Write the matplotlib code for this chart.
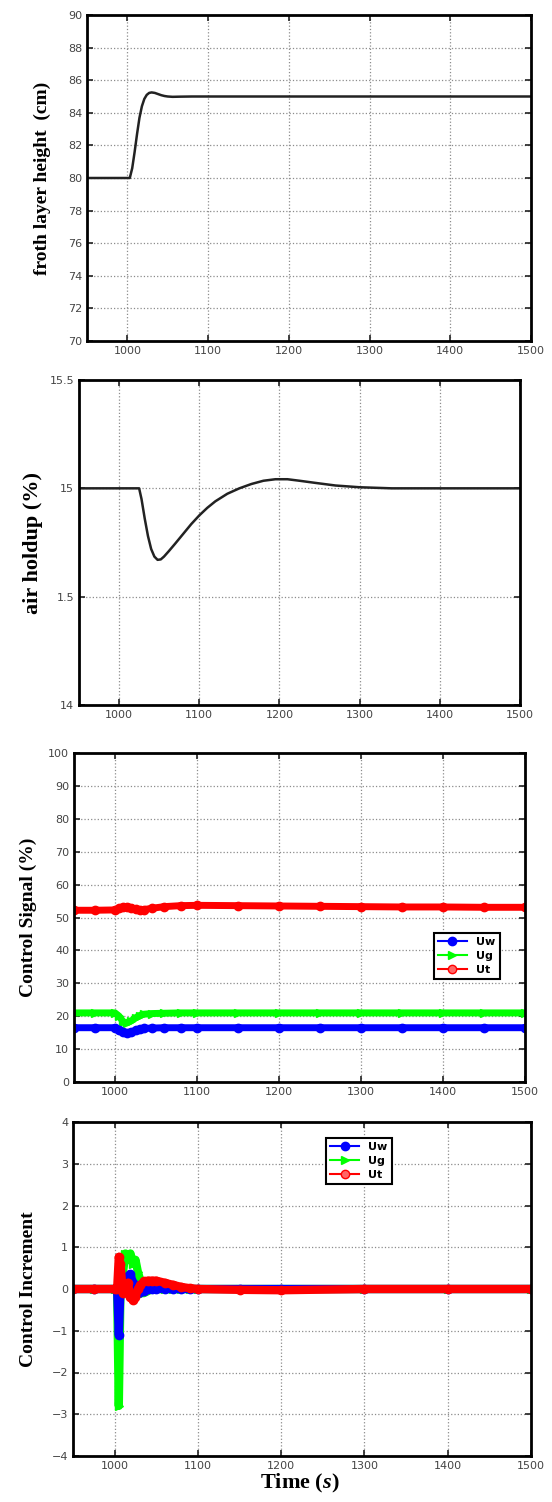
import matplotlib
matplotlib.use("Agg")
import matplotlib.pyplot as plt
from matplotlib.lines import Line2D

plt.rcParams["mathtext.fontset"] = "custom"
plt.rcParams["mathtext.it"] = "Liberation Serif:italic:bold"
plt.rcParams["mathtext.rm"] = "Liberation Serif:bold"

# ---- data ----
t_froth = [950, 1000, 1003, 1006, 1009, 1012, 1015, 1018, 1021, 1024, 1027, 1030, 1034, 1038,
           1042, 1046, 1050, 1056, 1065, 1080, 1500]
froth = [80, 80, 80, 80.6, 81.6, 82.7, 83.7, 84.4, 84.85, 85.1, 85.22, 85.25, 85.22, 85.15,
         85.08, 85.03, 85.0, 84.98, 84.99, 85.0, 85.0]

t_air = [950, 1025, 1028, 1032, 1036, 1040, 1044, 1048, 1052, 1056, 1062, 1070, 1080, 1090,
         1100, 1110, 1120, 1135, 1150, 1165, 1180, 1195, 1210, 1225, 1245, 1270, 1300, 1340,
         1400, 1500]
air = [15.0, 15.0, 14.95, 14.86, 14.78, 14.72, 14.685, 14.67, 14.672, 14.685, 14.71, 14.745,
       14.79, 14.835, 14.875, 14.91, 14.94, 14.975, 15.0, 15.02, 15.035, 15.042, 15.042,
       15.035, 15.025, 15.013, 15.005, 15.0, 15.0, 15.0]

t_sig = [950, 975, 1000, 1005, 1010, 1015, 1020, 1025, 1030, 1035, 1045, 1060, 1080, 1100,
         1150, 1200, 1250, 1300, 1350, 1400, 1450, 1500]
sig_uw = [16.5, 16.5, 16.5, 15.8, 15.1, 15.0, 15.2, 15.7, 16.1, 16.3, 16.4, 16.5, 16.5, 16.5,
          16.5, 16.5, 16.5, 16.5, 16.5, 16.5, 16.5, 16.5]
sig_ug = [21.0, 21.0, 21.0, 20.0, 18.3, 18.0, 18.6, 19.5, 20.2, 20.6, 20.8, 20.9, 21.0, 21.0,
          21.0, 21.0, 21.0, 21.0, 21.0, 21.0, 21.0, 21.0]
sig_ut = [52.2, 52.2, 52.3, 52.8, 53.2, 53.3, 53.0, 52.5, 52.3, 52.4, 52.8, 53.3, 53.6, 53.7,
          53.6, 53.5, 53.4, 53.3, 53.2, 53.2, 53.1, 53.1]

t_inc = [950, 975, 1000, 1003, 1005, 1007, 1010, 1013, 1016, 1019, 1022, 1025, 1028, 1031,
         1035, 1040, 1045, 1050, 1060, 1070, 1080, 1090, 1100, 1150, 1200, 1300, 1400, 1500]
inc_uw = [0, 0, 0, 0, -1.1, 0, 0.05, 0.15, 0.3, 0.35, 0.15, 0, -0.1, -0.08,
          -0.05, 0, 0, 0, 0, 0, 0, 0, 0, 0, 0, 0, 0, 0]
inc_ug = [0, 0, 0, 0, -2.8, 0, 0.4, 0.85, 0.7, 0.85, 0.6, 0.7, 0.4, 0.2,
          -0.1, -0.05, 0, 0, 0, 0, 0, 0, 0, 0, 0, 0, 0, 0]
inc_ut = [0, 0, 0, 0, 0.77, 0.6, -0.1, 0.1, 0.15, -0.2, -0.27, -0.2, 0.0, 0.1,
          0.18, 0.2, 0.2, 0.2, 0.15, 0.1, 0.05, 0.02, 0.0, -0.02, -0.03, 0, 0, 0]

series_names = ["Uw", "Ug", "Ut"]
series_colors = ["#0000ff", "#00ff00", "#ff0000"]
series_markers = ["o", ">", "o"]
draw_order = [1, 0, 2]  # green under blue, red on top

W, H = 552, 1502
fig = plt.figure(figsize=(W / 100, H / 100), dpi=100)


def make_ax(left, right, top, bottom):
    return fig.add_axes([left / W, 1 - bottom / H, (right - left) / W, (bottom - top) / H])


def style(ax, ylim, yticks, yticklabels=None):
    ax.set_xlim(950, 1500)
    ax.set_ylim(*ylim)
    ax.set_xticks([1000, 1100, 1200, 1300, 1400, 1500])
    ax.set_yticks(yticks)
    if yticklabels is not None:
        ax.set_yticklabels(yticklabels)
    ax.grid(True, linestyle=":", color="#8c8c8c", linewidth=0.9)
    ax.tick_params(direction="in", top=True, right=True, length=4, width=1.2,
                   labelsize=8, labelcolor="#444444", colors="#222222")
    for sp in ax.spines.values():
        sp.set_linewidth(2.0)
        sp.set_color("black")


def ylab(ax, text, x, size=14):
    ax.text(x, 0.5, text, transform=ax.transAxes, rotation=90, ha="center", va="center",
            fontsize=size, fontweight="bold", family="Liberation Serif")


def legend(ax, anchor):
    handles = [Line2D([0], [0], color=c, marker=m, lw=1.5, markersize=6,
                      markerfacecolor=c if n != "Ut" else "#ff6666", markeredgecolor=c)
               for n, c, m in zip(series_names, series_colors, series_markers)]
    lg = ax.legend(handles, series_names, loc="upper left", bbox_to_anchor=anchor,
                   handlelength=2.6, borderpad=0.4, labelspacing=0.35,
                   fancybox=False, framealpha=1, prop={"weight": "bold", "size": 8})
    lg.get_frame().set_edgecolor("black")
    lg.get_frame().set_linewidth(1.5)


# panel 1
ax1 = make_ax(87, 531, 15, 341)
ax1.plot(t_froth, froth, color="#222222", lw=1.8)
style(ax1, (70, 90), list(range(70, 91, 2)))
ylab(ax1, "froth layer height  (cm)", -0.101)

# panel 2
ax2 = make_ax(79, 520, 380, 705)
ax2.plot(t_air, air, color="#222222", lw=1.8)
style(ax2, (14, 15.5), [14, 14.5, 15, 15.5], ["14", "1.5", "15", "15.5"])
ylab(ax2, "air holdup (%)", -0.104, size=16)

# panel 3
ax3 = make_ax(74, 525, 753, 1082)
sig = [sig_uw, sig_ug, sig_ut]
for i in draw_order:
    ax3.plot(t_sig, sig[i], color=series_colors[i], lw=5, marker=series_markers[i], markersize=6)
style(ax3, (0, 100), list(range(0, 101, 10)))
ylab(ax3, "Control Signal (%)", -0.102)
legend(ax3, (0.785, 0.471))

# panel 4
ax4 = make_ax(73, 531, 1122, 1456)
inc = [inc_uw, inc_ug, inc_ut]
for i in draw_order:
    ax4.plot(t_inc, inc[i], color=series_colors[i], lw=6, marker=series_markers[i], markersize=6)
style(ax4, (-4, 4), list(range(-4, 5)))
ylab(ax4, "Control Increment", -0.098)
legend(ax4, (0.54, 0.97))

fig.text(300 / W, 1 - 1483 / H, "Time ($\\mathit{s}$)", ha="center", va="center",
         fontsize=16, fontweight="bold", family="Liberation Serif")

fig.savefig("out.png", dpi=100)
